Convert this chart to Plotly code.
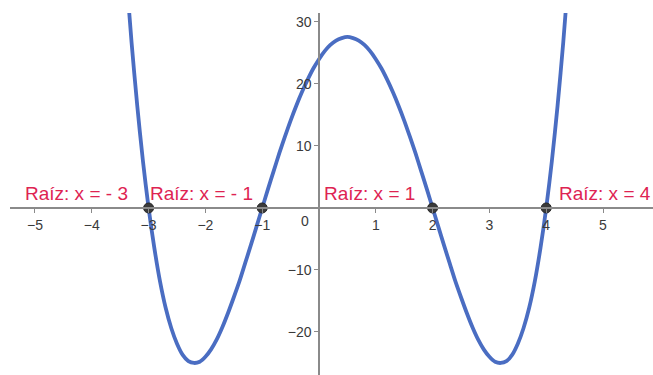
import plotly.graph_objects as go

# Sampled curve of the quartic with roots -3, -1, 2, 4
curve_x = [round(-3.4 + 0.1 * i, 1) for i in range(79)]
curve_y = [
    38.4, 26.7, 16.5, 7.6, 0.0, -6.4, -11.8, -16.1, -19.4, -21.9,
    -23.7, -24.7, -25.0, -24.8, -24.0, -22.8, -21.2, -19.2, -16.9, -14.4,
    -11.8, -8.9, -6.0, -3.0, 0.0, 3.0, 5.9, 8.8, 11.5, 14.1,
    16.5, 18.7, 20.7, 22.5, 24.0, 25.3, 26.3, 27.0, 27.4, 27.6,
    27.4, 27.0, 26.3, 25.3, 24.0, 22.5, 20.7, 18.7, 16.5, 14.1,
    11.5, 8.8, 5.9, 3.0, 0.0, -3.0, -6.0, -8.9, -11.8, -14.4,
    -16.9, -19.2, -21.2, -22.8, -24.0, -24.8, -25.0, -24.7, -23.7, -21.9,
    -19.4, -16.1, -11.8, -6.4, 0.0, 7.6, 16.5, 26.7, 38.4,
]

# Roots and their labels
root_x = [-3, -1, 2, 4]
root_y = [0, 0, 0, 0]
root_labels = ["Raíz: x = - 3", "Raíz: x = - 1", "Raíz: x = 1", "Raíz: x = 4"]

x_ticks = [-5, -4, -3, -2, -1, 1, 2, 3, 4, 5]
y_ticks = [-20, -10, 10, 20, 30]

FONT = "Liberation Sans, Arial, sans-serif"
LABEL_COLOR = "#DE2352"
CURVE_COLOR = "#4A6DC2"
AXIS_COLOR = "#8a8a8a"
TICK_COLOR = "#3a3a3a"

x_range = [-5.44, 5.88]
y_range = [-26.94, 31.45]

fig = go.Figure()

fig.add_trace(go.Scatter(
    x=curve_x, y=curve_y, mode="lines",
    line=dict(color=CURVE_COLOR, width=3.8, shape="spline", smoothing=0.8),
    hoverinfo="skip", showlegend=False,
))

fig.add_trace(go.Scatter(
    x=root_x, y=root_y, mode="markers",
    marker=dict(size=10, color="#3a3a3a", line=dict(color="#262626", width=1)),
    showlegend=False, cliponaxis=False,
))

# label placement: (anchor side, horizontal pixel shift)
label_style = [("right", -19), ("right", -7), ("right", -16), ("left", 11)]
for rx, ry, txt, (side, dx) in zip(root_x, root_y, root_labels, label_style):
    fig.add_annotation(
        x=rx, y=ry, text=txt, showarrow=False,
        xanchor=side, yanchor="middle", xshift=dx, yshift=14,
        font=dict(family=FONT, size=19, color=LABEL_COLOR),
    )

# origin label
fig.add_annotation(
    x=0, y=0, text="0", showarrow=False,
    xanchor="right", yanchor="middle", xshift=-8, yshift=-13,
    font=dict(family=FONT, size=14, color=TICK_COLOR),
)

x_pos = (0 - y_range[0]) / (y_range[1] - y_range[0])
y_pos = (0 - x_range[0]) / (x_range[1] - x_range[0])

fig.update_layout(
    width=653, height=375,
    margin=dict(l=10, r=0, t=13, b=0),
    paper_bgcolor="white", plot_bgcolor="white",
    font=dict(family=FONT, size=14, color=TICK_COLOR),
    xaxis=dict(
        range=x_range, anchor="free", position=x_pos,
        showline=True, linecolor=AXIS_COLOR, linewidth=1.5,
        showgrid=False, zeroline=False,
        tickmode="array", tickvals=x_ticks,
        ticks="outside", ticklen=4, tickcolor=AXIS_COLOR, tickwidth=1,
        tickfont=dict(family=FONT, size=14, color=TICK_COLOR),
    ),
    yaxis=dict(
        range=y_range, anchor="free", position=y_pos,
        showline=True, linecolor=AXIS_COLOR, linewidth=1.5,
        showgrid=False, zeroline=False,
        tickmode="array", tickvals=y_ticks,
        ticks="outside", ticklen=4, tickcolor=AXIS_COLOR, tickwidth=1,
        tickfont=dict(family=FONT, size=14, color=TICK_COLOR),
    ),
)

fig.write_html("out.html")
